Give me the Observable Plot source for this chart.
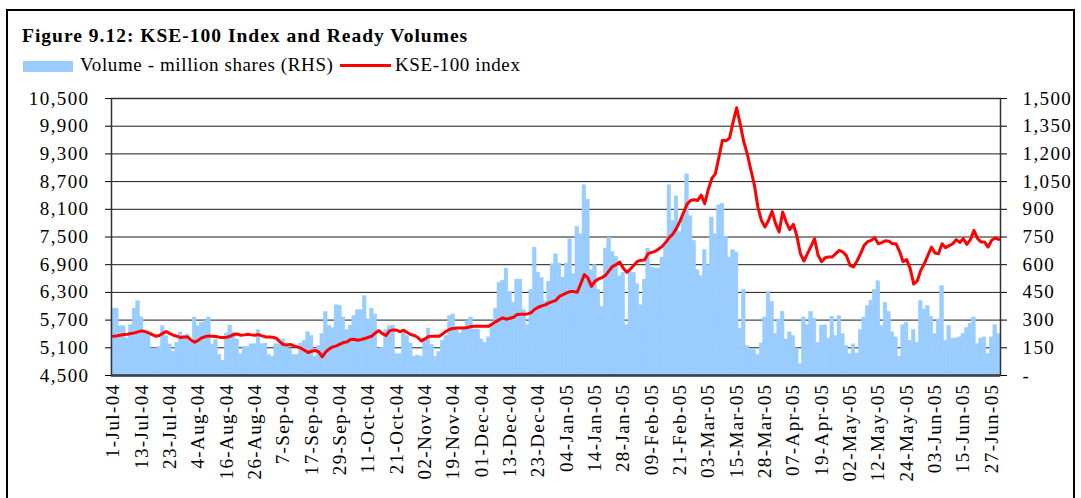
<!DOCTYPE html>
<html><head><meta charset="utf-8">
<script src="https://cdn.jsdelivr.net/npm/d3@7"></script>
<script src="https://cdn.jsdelivr.net/npm/@observablehq/plot@0.6"></script>
<style>
body{margin:0;background:#fff;}
#wrap{position:relative;width:1081px;height:498px;overflow:hidden;font-family:"Liberation Serif","Times New Roman",serif;color:#000;}
#frame{position:absolute;left:6px;top:9px;width:1069px;height:530px;border:2px solid #000;box-sizing:border-box;}
#title{position:absolute;left:22px;top:26px;font-weight:bold;font-size:19.5px;letter-spacing:1px;line-height:1;white-space:nowrap;}
.leg{position:absolute;top:55px;font-size:19px;letter-spacing:0.6px;line-height:1;white-space:nowrap;}
#sw1{position:absolute;left:23px;top:61px;width:50px;height:11px;background:#99CCFF;}
#sw2{position:absolute;left:340px;top:63.5px;width:51px;height:3px;background:#FF0000;}
#chart{position:absolute;left:0;top:80px;}
</style></head>
<body><div id="wrap">
<div id="frame"></div>
<div id="title">Figure 9.12: KSE-100 Index and Ready Volumes</div>
<div id="sw1"></div><div class="leg" style="left:80px">Volume - million shares (RHS)</div>
<div id="sw2"></div><div class="leg" style="left:395px">KSE-100 index</div>
<div id="chart"></div>
</div>
<script>
const xLabels = ["1-Jul-04","13-Jul-04","23-Jul-04","4-Aug-04","16-Aug-04","26-Aug-04","7-Sep-04","17-Sep-04","29-Sep-04","11-Oct-04","21-Oct-04","02-Nov-04","19-Nov-04","01-Dec-04","13-Dec-04","23-Dec-04","04-Jan-05","14-Jan-05","28-Jan-05","09-Feb-05","21-Feb-05","03-Mar-05","15-Mar-05","28-Mar-05","07-Apr-05","19-Apr-05","02-May-05","12-May-05","24-May-05","03-Jun-05","15-Jun-05","27-Jun-05"];
const leftTicks = [4500,5100,5700,6300,6900,7500,8100,8700,9300,9900,10500];
const rightTicks = [0,150,300,450,600,750,900,1050,1200,1350,1500];
const volume = [
362,362,266,266,200,272,362,402,315,227,227,146,146,155,266,214,168,128,177,233,214,222,177,314,266,285,294,314,168,191,110,79,227,270,233,195,115,155,155,168,
169,245,169,173,110,101,169,169,195,173,137,110,110,173,187,234,213,101,159,224,343,270,256,380,377,314,245,270,321,353,353,429,303,362,330,146,151,245,266,270,115,
115,231,213,173,101,108,101,200,254,164,101,128,187,213,321,330,245,227,249,294,314,249,249,195,177,206,266,362,501,512,579,451,393,519,519,353,272,462,692,557,
528,400,507,602,656,606,530,606,737,548,804,764,1030,952,570,597,462,371,687,746,669,642,537,555,272,561,555,494,380,519,687,584,579,579,638,705,1030,837,970,777,862,1089,862,
728,570,537,678,597,855,764,921,930,750,638,678,665,254,462,159,137,137,110,173,314,451,398,224,303,344,195,233,213,146,61,314,272,344,308,177,269,272,200,317,
213,321,224,159,115,168,119,245,314,375,404,462,510,267,393,344,234,206,101,272,285,187,245,177,402,357,375,317,224,303,483,187,267,200,200,206,224,256,281,314,169,200,206,115,206,272,224];
const kse = [
5351,5358,5372,5387,5394,5408,5423,5445,5466,5452,5423,5387,5351,5365,5416,5452,5408,5372,5351,5322,5336,5336,5264,5221,5264,5315,5344,5358,5351,5344,5329,5322,5329,5351,5387,5401,5372,5380,5394,5380,
5372,5387,5358,5336,5336,5329,5308,5235,5171,5163,5171,5142,5120,5091,5048,4998,5026,5041,5012,4904,5012,5077,5120,5142,5178,5214,5228,5279,5286,5264,5279,5300,5329,5351,5423,5473,5408,5365,5466,5488,5481,
5452,5481,5430,5387,5365,5322,5250,5293,5344,5351,5351,5351,5401,5459,5502,5517,5531,5531,5531,5538,5560,5567,5567,5567,5567,5567,5618,5668,5711,5747,5718,5740,5762,5819,5827,5827,5834,5863,5935,5978,6007,6029,
6072,6101,6129,6216,6252,6288,6317,6317,6303,6490,6685,6613,6432,6540,6591,6620,6670,6771,6865,6901,6959,6822,6735,6807,6887,6973,6995,7002,7139,7168,7189,7240,7297,7384,7492,7564,7687,7845,8026,8213,8292,
8307,8292,8408,8220,8530,8768,8869,9230,9597,9583,9641,9987,10300,9951,9569,9302,8963,8631,8148,7860,7716,7860,8055,7788,7608,8040,7824,7658,7773,7528,7139,6980,7139,7297,7463,7103,6966,7052,7067,7067,
7139,7211,7175,7096,6887,6850,6980,7139,7319,7398,7427,7485,7355,7377,7420,7406,7355,7355,7189,6966,7009,6814,6480,6548,6778,6923,7103,7283,7153,7139,7355,7269,7312,7355,7442,7384,7463,7341,7442,7644,7471,7391,7391,7283,7427,7478,7449];

// right (volume) axis mapped onto the left index scale: 0..1500 -> 4500..10500
const volToY = v => 4500 + v * 4;
const rows = volume.map((v, i) => ({i, vol: v, kse: kse[i]}));
const idx = rows.map(d => d.i);
const xTicks = xLabels.map((_, j) => j * 8);
const rightPos = rightTicks.map(volToY);
const fmt = d3.format(",");

const chart = Plot.plot({
  width: 1081, height: 410,
  marginTop: 18, marginBottom: 115, marginLeft: 111, marginRight: 81,
  style: {fontFamily: "Liberation Serif, Times New Roman, serif", fontSize: "19px", letterSpacing: "1.4px", color: "#000", background: "transparent", overflow: "visible"},
  x: {type: "band", domain: idx, padding: 0, axis: null},
  y: {domain: [4500, 10500], axis: null},
  marks: [
    Plot.ruleY(leftTicks, {stroke: "#1a1a1a", strokeWidth: 1}),
    Plot.barY(rows, {x: "i", y1: 4500, y2: d => volToY(d.vol), fill: "#99CCFF", stroke: "#99CCFF", strokeWidth: 0.6, inset: 0}),
    Plot.lineY(rows, {x: "i", y: "kse", stroke: "#FF0000", strokeWidth: 3, strokeLinejoin: "round"}),
    Plot.frame({stroke: "#333", strokeWidth: 1.5}),
    Plot.ruleY([4500], {stroke: "#3a3f48", strokeWidth: 2.5}),
    Plot.axisY(leftTicks, {anchor: "left", label: null, tickSize: 6, tickPadding: 16, tickFormat: fmt, fontSize: 19}),
    Plot.axisY(rightPos, {anchor: "right", label: null, tickSize: 6, tickPadding: 16, fontSize: 19,
      tickFormat: d => { const v = rightTicks[rightPos.indexOf(d)]; return v === 0 ? "-" : fmt(v); }}),
    Plot.axisX(xTicks, {anchor: "bottom", label: null, tickSize: 0, tickPadding: 8, tickRotate: -90, fontSize: 19,
      tickFormat: i => xLabels[i / 8]})
  ]
});
document.getElementById("chart").appendChild(chart);
</script>
</body></html>
